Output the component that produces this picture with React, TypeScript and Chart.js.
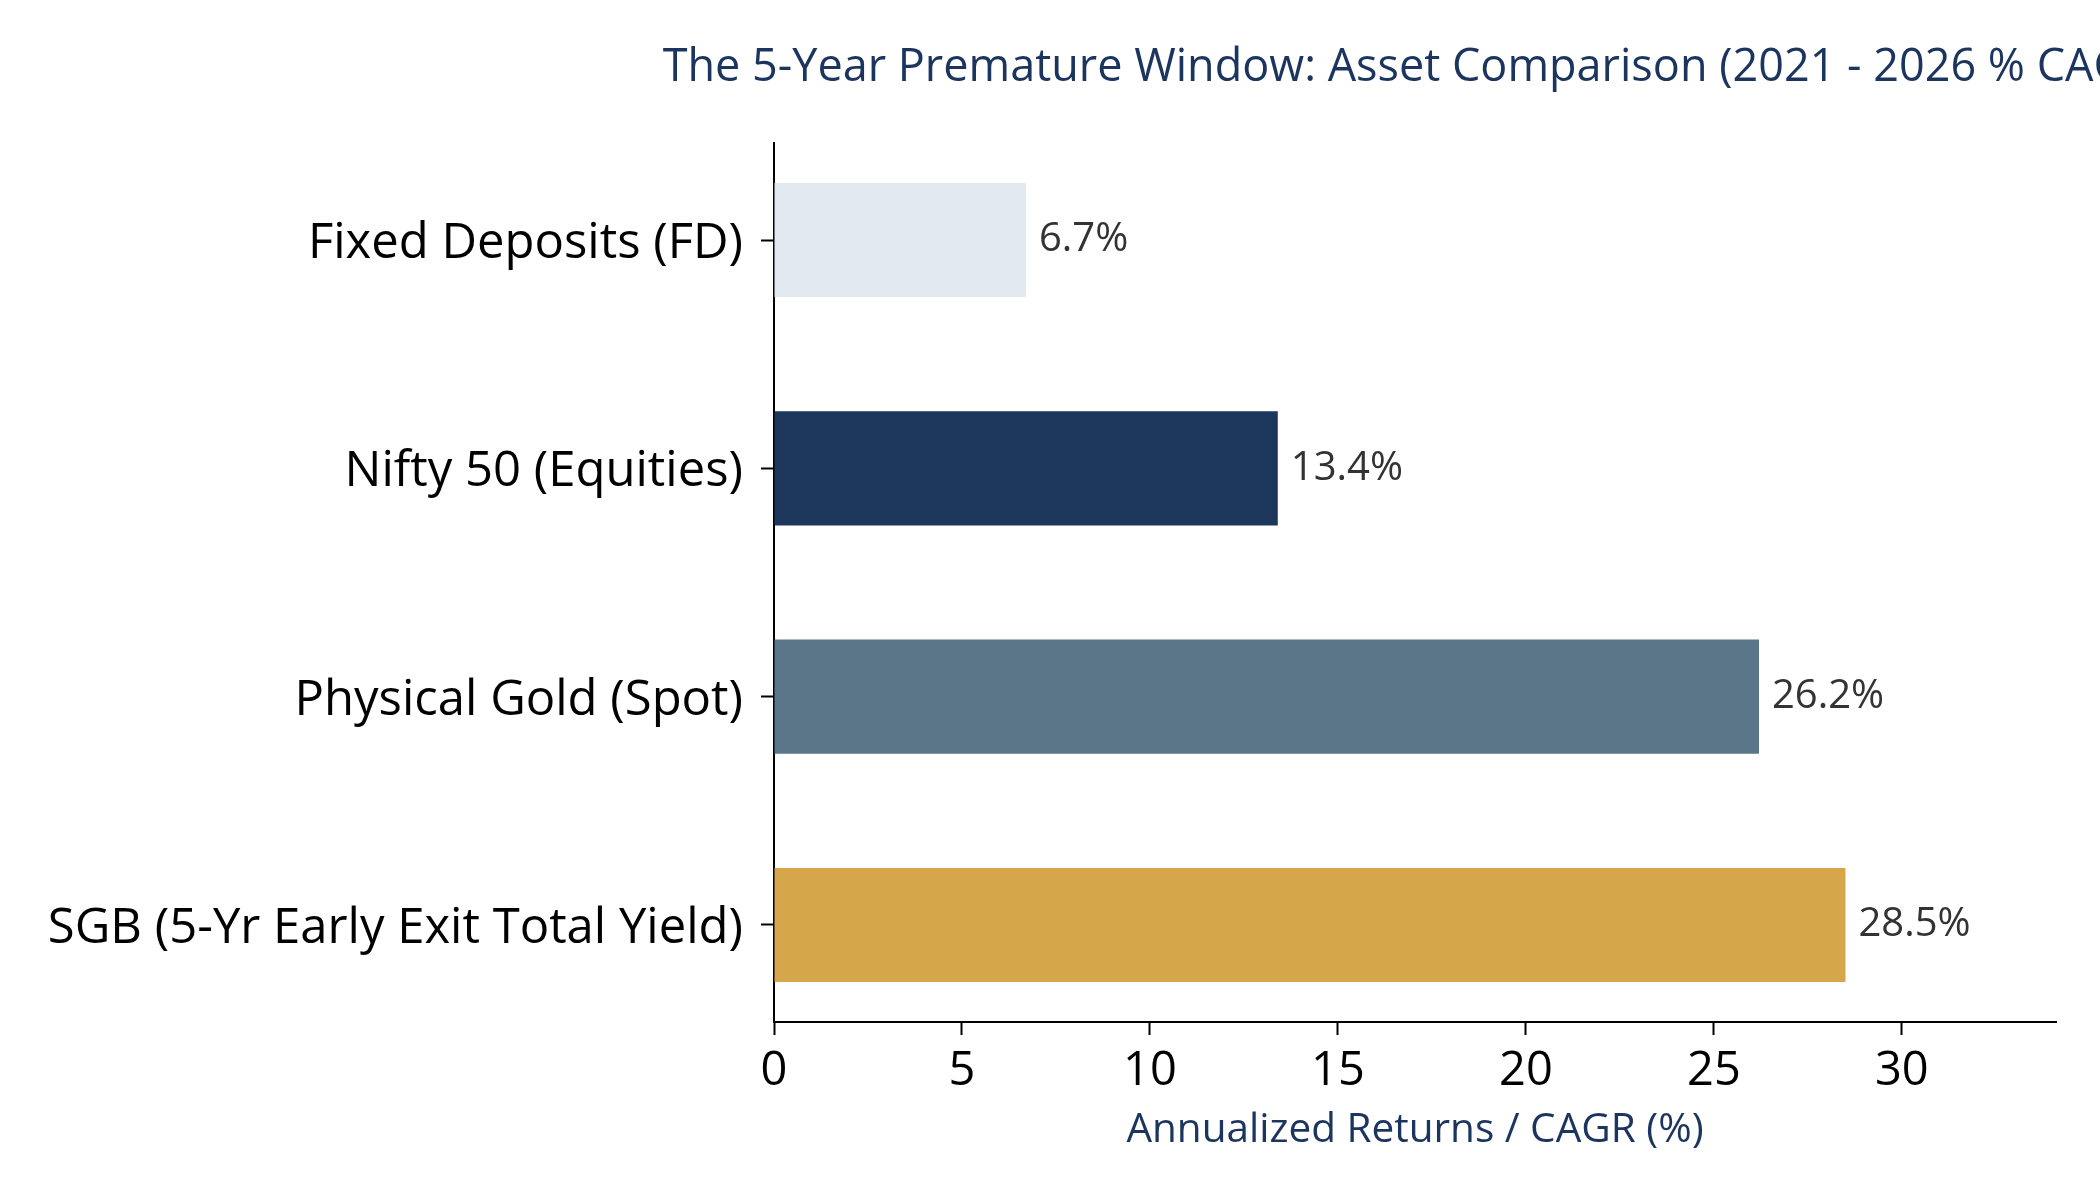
import React, { useEffect, useRef } from "react";
import { Chart, registerables } from "chart.js";

Chart.register(...registerables);

const categories = [
  "Fixed Deposits (FD)",
  "Nifty 50 (Equities)",
  "Physical Gold (Spot)",
  "SGB (5-Yr Early Exit Total Yield)",
];
const cagrValues = [6.7, 13.4, 26.2, 28.5];
const barColors = ["#E2E8F0", "#1C365C", "#5B7589", "#D6A64A"];
const xTickValues = [0, 5, 10, 15, 20, 25, 30];
const chartTitle = "The 5-Year Premature Window: Asset Comparison (2021 - 2026 % CAGR)";
const xAxisTitle = "Annualized Returns / CAGR (%)";

const FONT = "'Open Sans', sans-serif";
const NAVY = "#1C355E";

export default function App() {
  const ref = useRef<HTMLCanvasElement | null>(null);

  useEffect(() => {
    if (!ref.current) return;

    const titlePlugin = {
      id: "customTitle",
      afterDraw(chart: any) {
        const { ctx, chartArea } = chart;
        ctx.save();
        ctx.font = `45px ${FONT}`;
        ctx.fillStyle = NAVY;
        ctx.textAlign = "center";
        ctx.textBaseline = "middle";
        ctx.fillText(chartTitle, (chartArea.left + chartArea.right) / 2, 68);
        ctx.restore();
      },
    };

    const valueLabels = {
      id: "valueLabels",
      afterDatasetsDraw(chart: any) {
        const { ctx } = chart;
        const meta = chart.getDatasetMeta(0);
        ctx.save();
        ctx.font = `40px ${FONT}`;
        ctx.fillStyle = "#333333";
        ctx.textAlign = "left";
        ctx.textBaseline = "middle";
        meta.data.forEach((bar: any, i: number) => {
          ctx.fillText(cagrValues[i].toFixed(1) + "%", bar.x + 13, bar.y);
        });
        ctx.restore();
      },
    };

    const chart = new Chart(ref.current, {
      type: "bar",
      data: {
        datasets: [
          {
            data: cagrValues.map((v, i) => ({ x: v, y: i })),
            backgroundColor: barColors,
            borderWidth: 0,
            barPercentage: 0.5,
            categoryPercentage: 1.0,
          },
        ],
      },
      options: {
        indexAxis: "y",
        responsive: false,
        animation: false,
        devicePixelRatio: 1,
        layout: { padding: { top: 143, right: 44, bottom: 0, left: 0 } },
        plugins: {
          legend: { display: false },
          tooltip: { enabled: false },
          title: { display: false },
        },
        scales: {
          x: {
            type: "linear",
            min: 0,
            max: 34.1,
            offset: false,
            afterFit: (scale: any) => {
              scale.height = 178;
            },
            afterBuildTicks: (axis: any) => {
              axis.ticks = xTickValues.map((v) => ({ value: v }));
            },
            ticks: {
              font: { family: FONT, size: 47 },
              color: "#000000",
              padding: 8,
              maxRotation: 0,
              includeBounds: false,
            },
            grid: {
              offset: false,
              drawOnChartArea: false,
              drawTicks: true,
              tickLength: 13,
              tickWidth: 2,
              color: "#000000",
            },
            border: { display: true, color: "#000000", width: 2 },
            title: {
              display: true,
              text: xAxisTitle,
              color: NAVY,
              font: { family: FONT, size: 40.5 },
              padding: { top: 0, bottom: 45 },
            },
          },
          y: {
            type: "linear",
            reverse: true,
            min: -0.425,
            max: 3.425,
            offset: false,
            afterFit: (scale: any) => {
              scale.width = 774;
            },
            afterBuildTicks: (axis: any) => {
              axis.ticks = categories.map((_, i) => ({ value: i }));
            },
            ticks: {
              font: { family: FONT, size: 49 },
              color: "#000000",
              padding: 18,
              labelOffset: 4,
              callback: (v: any) => categories[v] ?? "",
            },
            grid: {
              offset: false,
              drawOnChartArea: false,
              drawTicks: true,
              tickLength: 13,
              tickWidth: 2,
              color: "#000000",
            },
            border: { display: true, color: "#000000", width: 2 },
          },
        },
      },
      plugins: [titlePlugin, valueLabels],
    });

    return () => chart.destroy();
  }, []);

  return (
    <div style={{ position: "absolute", left: 0, top: 0, width: 2100, height: 1200, background: "#ffffff" }}>
      <canvas ref={ref} width={2100} height={1200} style={{ display: "block" }} />
    </div>
  );
}
